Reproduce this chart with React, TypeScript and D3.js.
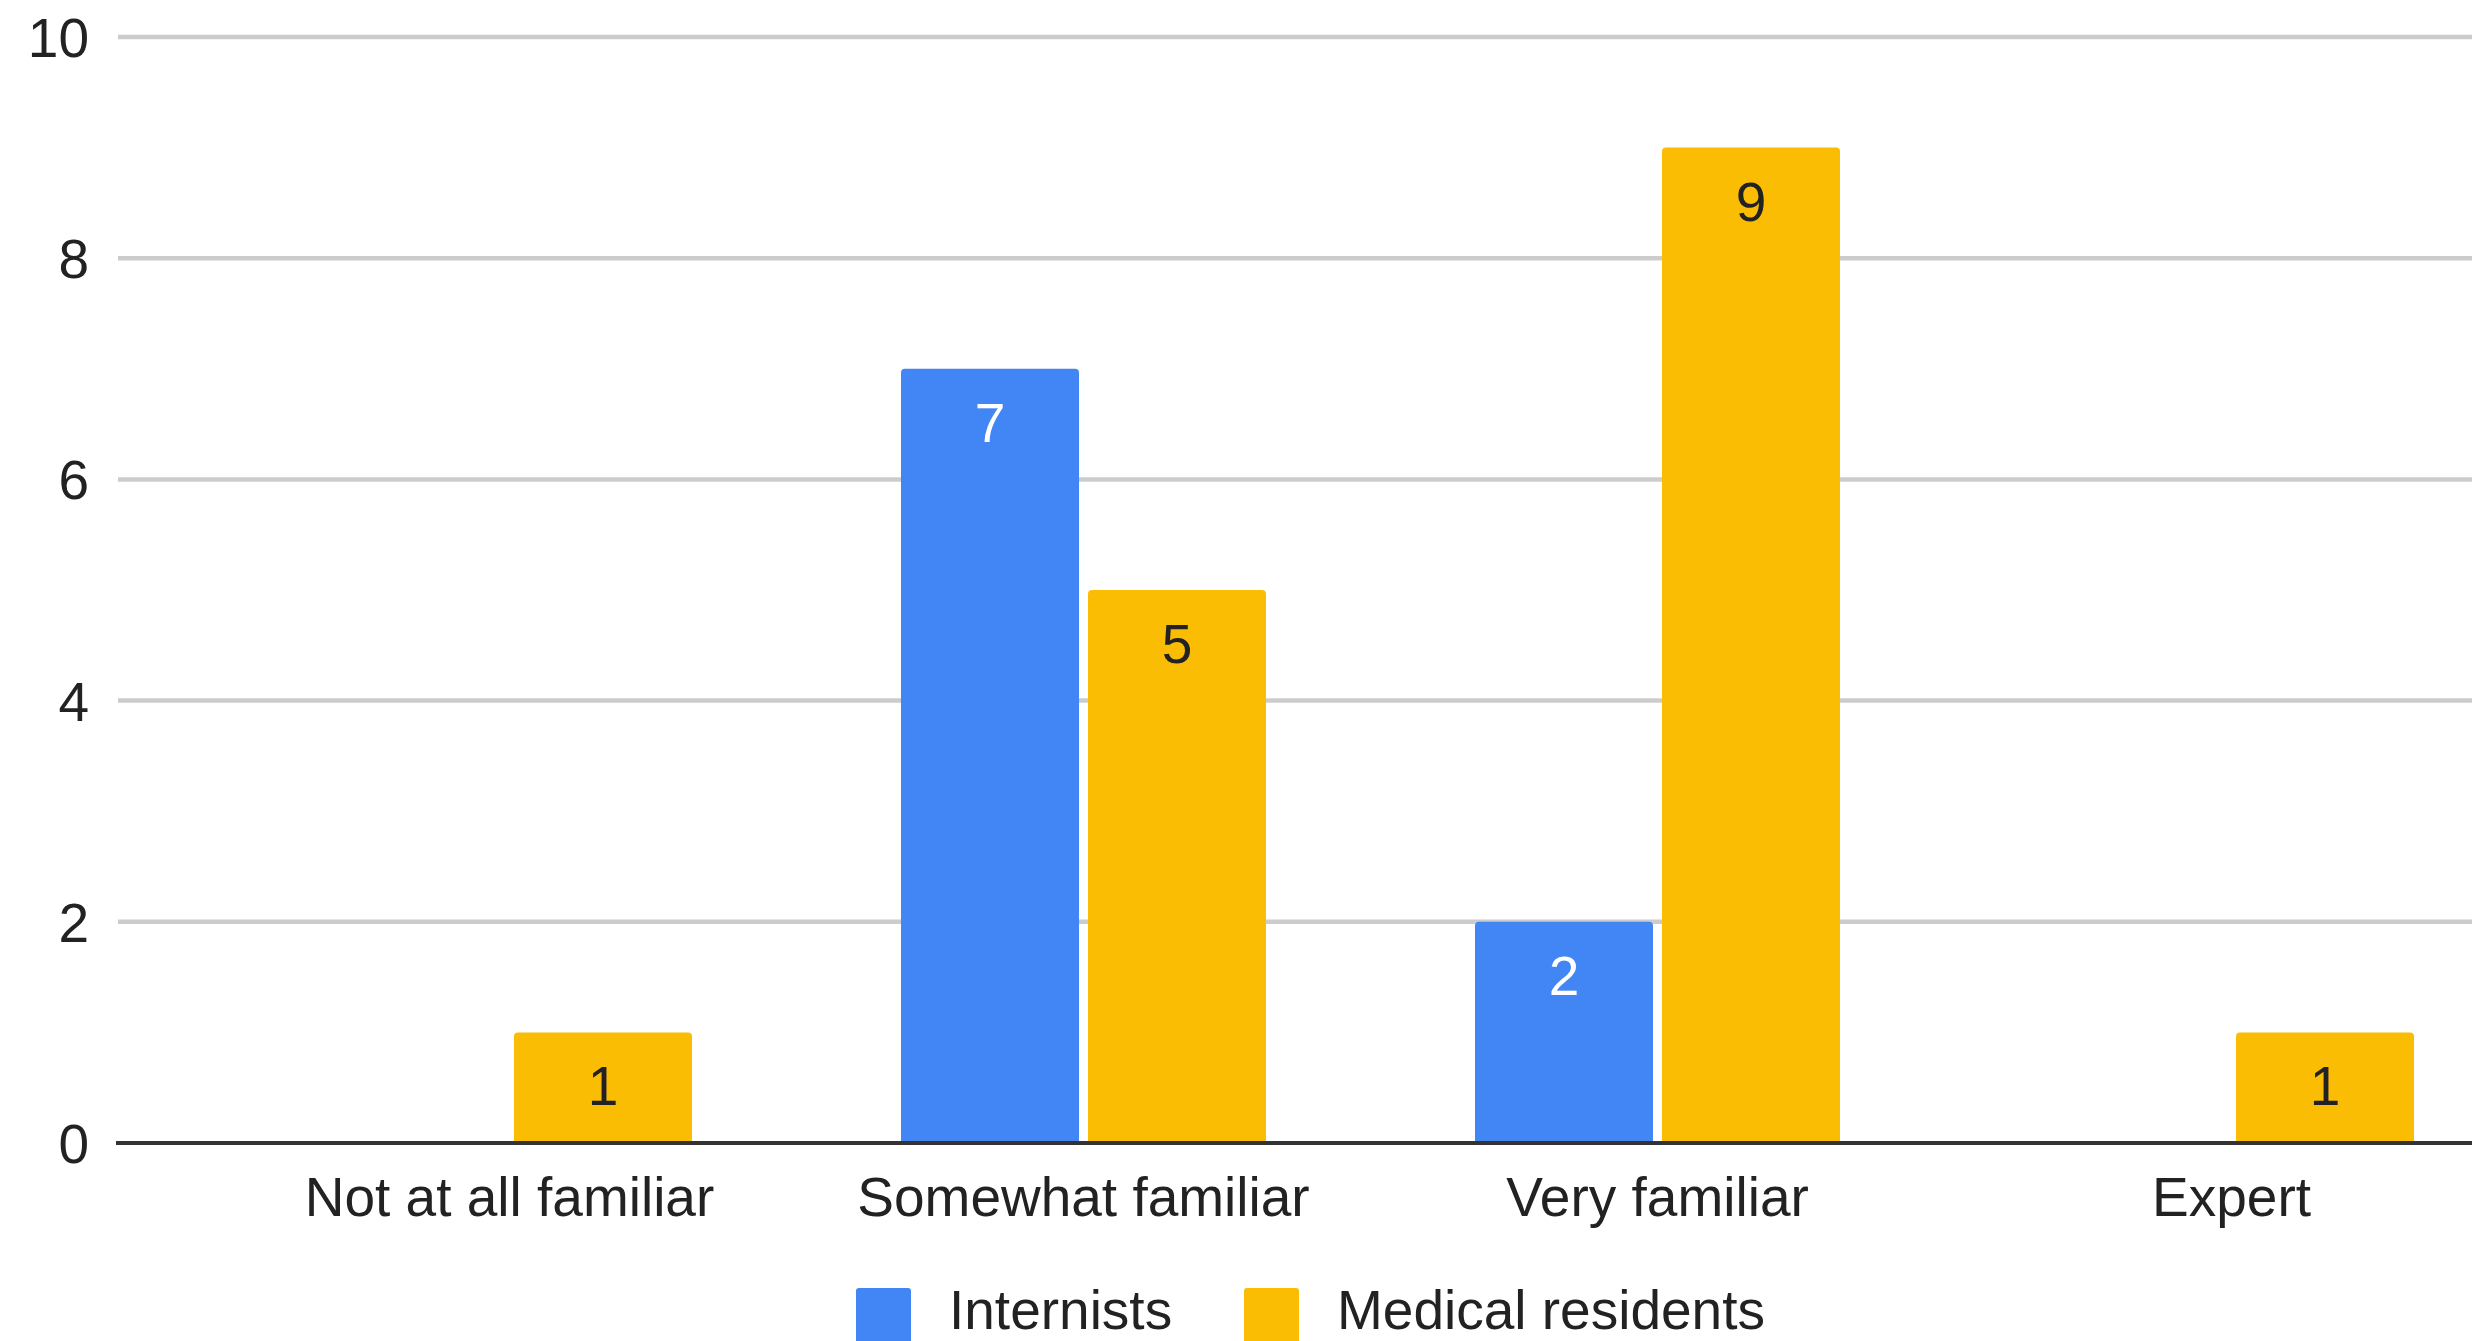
import React, { useEffect, useRef } from "react";
import * as d3 from "d3";

const categories = ["Not at all familiar", "Somewhat familiar", "Very familiar", "Expert"];
const seriesNames = ["Internists", "Medical residents"];
const internists = [0, 7, 2, 0];
const residents = [1, 5, 9, 1];
const yTicks = [0, 2, 4, 6, 8, 10];
const colors = ["#4285f4", "#fbbc04"];
const labelColors = ["#ffffff", "#222222"];

const width = 2472;
const height = 1341;
const font = "'Liberation Sans', Arial, sans-serif";

export default function App() {
  const ref = useRef<SVGSVGElement>(null);

  useEffect(() => {
    const svg = d3.select(ref.current);
    svg.selectAll("*").remove();

    const y = d3.scaleLinear().domain([0, 10]).range([1143, 37]);
    const x = d3.scalePoint<string>().domain(categories).range([509.5, 2231.5]);
    const inner = d3.scaleBand<string>().domain(seriesNames).range([-182.5, 182.5]).paddingInner(0.048);

    // gridlines
    svg.append("g")
      .selectAll("line")
      .data(yTicks.filter(d => d !== 0))
      .join("line")
      .attr("x1", 118)
      .attr("x2", width)
      .attr("y1", d => y(d))
      .attr("y2", d => y(d))
      .attr("stroke", "#cccccc")
      .attr("stroke-width", 4.5);

    // y labels
    svg.append("g")
      .selectAll("text")
      .data(yTicks)
      .join("text")
      .attr("x", 89)
      .attr("y", d => y(d) + 20)
      .attr("text-anchor", "end")
      .attr("font-family", font)
      .attr("font-size", 55)
      .attr("fill", "#222")
      .text(d => d);

    const rows = seriesNames.flatMap((s, si) => {
      const vals = si === 0 ? internists : residents;
      return categories.map((c, ci) => ({ s, si, c, v: vals[ci] }));
    }).filter(d => d.v > 0);

    const bw = inner.bandwidth();
    const r = 4;
    const barPath = (d: any) => {
      const x0 = x(d.c)! + inner(d.s)!;
      const y0 = y(d.v);
      const y1 = y(0);
      return `M${x0},${y1}V${y0 + r}Q${x0},${y0} ${x0 + r},${y0}H${x0 + bw - r}Q${x0 + bw},${y0} ${x0 + bw},${y0 + r}V${y1}Z`;
    };

    svg.append("g")
      .selectAll("path")
      .data(rows)
      .join("path")
      .attr("d", barPath)
      .attr("fill", d => colors[d.si]);

    // value labels inside bars
    svg.append("g")
      .selectAll("text")
      .data(rows)
      .join("text")
      .attr("x", d => x(d.c)! + inner(d.s)! + bw / 2)
      .attr("y", d => y(d.v) + 73)
      .attr("text-anchor", "middle")
      .attr("font-family", font)
      .attr("font-size", 55)
      .attr("fill", d => labelColors[d.si])
      .text(d => d.v);

    // baseline
    svg.append("line")
      .attr("x1", 116)
      .attr("x2", width)
      .attr("y1", y(0))
      .attr("y2", y(0))
      .attr("stroke", "#333333")
      .attr("stroke-width", 4);

    // x labels
    svg.append("g")
      .selectAll("text")
      .data(categories)
      .join("text")
      .attr("x", d => x(d)!)
      .attr("y", 1216)
      .attr("text-anchor", "middle")
      .attr("font-family", font)
      .attr("font-size", 55)
      .attr("fill", "#222")
      .text(d => d);

    // legend
    const legendX = [856, 1244];
    const lg = svg.append("g")
      .selectAll("g")
      .data(seriesNames)
      .join("g")
      .attr("transform", (d, i) => `translate(${legendX[i]},1288)`);
    lg.append("rect")
      .attr("width", 55)
      .attr("height", 56)
      .attr("rx", 3)
      .attr("fill", (d, i) => colors[i]);
    lg.append("text")
      .attr("x", 93)
      .attr("y", 41)
      .attr("font-family", font)
      .attr("font-size", 55)
      .attr("fill", "#222")
      .text(d => d);
  }, []);

  return (
    <svg
      ref={ref}
      width={width}
      height={height}
      viewBox={`0 0 ${width} ${height}`}
      style={{ position: "absolute", left: 0, top: 0, background: "#fff", display: "block" }}
    />
  );
}
